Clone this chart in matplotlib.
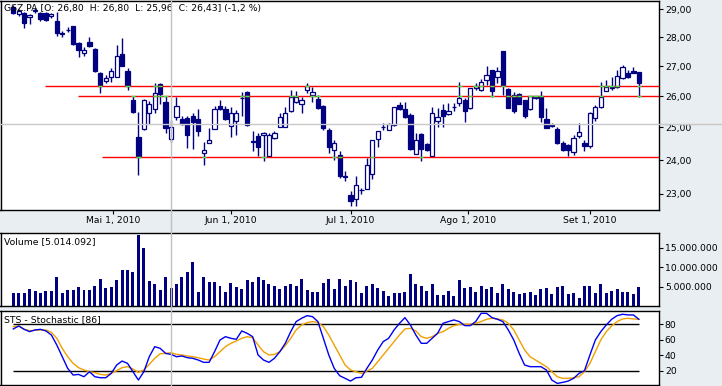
import numpy as np
import pandas as pd
import matplotlib
matplotlib.use('Agg')
import matplotlib.pyplot as plt
import matplotlib.transforms as mtransforms
from matplotlib.lines import Line2D
from matplotlib.ticker import FixedLocator, NullLocator, FuncFormatter, NullFormatter

# GSZ.PA daily candles, 6 Apr - 14 Sep 2010
dates = pd.bdate_range('2010-04-06', '2010-09-14')

opens = [29.08, 28.83, 28.86, 28.72, 28.92, 28.86, 28.86, 28.74, 28.57, 28.14,
         28.27, 28.38, 27.79, 27.45, 27.83, 27.60, 26.77, 26.51, 26.65, 26.65,
         27.41, 26.84, 25.88, 24.71, 24.96, 25.45, 25.59, 26.40, 25.82, 24.65,
         25.32, 25.27, 25.29, 25.35, 25.27, 24.21, 24.51, 24.95, 25.69, 25.59,
         25.05, 25.21, 25.94, 26.15, 24.57, 24.74, 24.77, 24.11, 24.67, 25.02,
         25.02, 25.51, 25.82, 25.75, 26.20, 26.04, 25.91, 25.67, 24.93, 24.31,
         24.16, 23.51, 22.98, 22.84, 23.11, 23.15, 23.59, 24.64, 25.00, 24.93,
         25.08, 25.72, 25.58, 25.40, 24.19, 24.80, 24.49, 24.11, 25.21, 25.54,
         25.42, 25.65, 25.77, 25.88, 25.61, 26.27, 26.20, 26.53, 26.87, 26.62,
         27.52, 26.24, 26.04, 26.07, 25.88, 25.58, 26.01, 26.01, 25.26, 25.06,
         24.95, 24.53, 24.46, 24.23, 24.72, 24.53, 24.43, 25.29, 25.65, 26.18,
         26.27, 26.29, 26.59, 26.76, 26.85, 26.80]
highs = [29.15, 29.00, 28.90, 28.83, 29.04, 28.90, 28.90, 28.86, 28.90, 28.23,
         28.37, 28.41, 27.83, 27.65, 28.00, 27.62, 26.79, 26.70, 26.94, 27.72,
         27.97, 26.94, 26.00, 25.50, 25.91, 25.85, 26.42, 26.42, 26.01, 25.24,
         25.99, 25.35, 25.35, 25.46, 25.59, 24.56, 24.98, 25.69, 25.88, 25.69,
         25.66, 25.56, 26.15, 26.17, 24.90, 24.83, 24.87, 24.83, 24.90, 25.46,
         25.65, 26.20, 26.18, 25.98, 26.42, 26.29, 26.04, 25.72, 24.99, 24.62,
         24.26, 23.66, 23.07, 23.51, 23.18, 24.06, 24.62, 24.90, 25.14, 25.15,
         25.66, 25.82, 25.82, 25.46, 24.82, 24.82, 24.52, 25.66, 25.61, 25.75,
         25.77, 25.79, 26.47, 25.94, 26.27, 26.43, 26.58, 27.00, 26.87, 26.98,
         27.52, 26.26, 26.15, 26.11, 25.88, 26.01, 26.01, 26.18, 25.62, 25.15,
         25.03, 24.59, 24.49, 24.77, 25.14, 24.62, 25.50, 25.72, 26.47, 26.53,
         26.64, 26.87, 27.04, 26.87, 26.97, 26.80]
lows = [28.83, 28.75, 28.32, 28.47, 28.86, 28.57, 28.57, 28.68, 28.04, 28.00,
        28.18, 27.74, 27.31, 27.35, 27.67, 26.80, 26.12, 26.45, 26.47, 26.63,
        26.99, 26.19, 25.46, 23.56, 24.93, 25.11, 25.46, 25.75, 24.83, 24.56,
        25.24, 25.08, 24.37, 24.34, 24.72, 23.86, 24.51, 24.95, 25.56, 25.24,
        24.71, 24.75, 25.37, 25.06, 24.26, 24.11, 23.96, 24.10, 24.65, 25.00,
        25.00, 25.50, 25.77, 25.47, 26.09, 25.82, 25.59, 24.93, 24.21, 24.01,
        23.47, 23.37, 22.65, 22.65, 23.01, 23.15, 23.44, 24.41, 24.93, 24.91,
        25.06, 25.56, 25.30, 24.31, 24.18, 23.96, 24.28, 24.10, 25.03, 25.01,
        25.40, 25.51, 25.69, 25.16, 25.59, 26.20, 26.17, 26.37, 25.98, 26.42,
        26.04, 25.61, 25.46, 25.74, 25.29, 25.56, 25.91, 25.16, 24.97, 25.02,
        24.49, 24.28, 24.11, 24.16, 24.67, 24.26, 24.37, 25.21, 25.62, 26.17,
        26.20, 26.27, 26.56, 26.60, 26.77, 25.96]
closes = [28.86, 28.93, 28.50, 28.79, 28.99, 28.63, 28.61, 28.81, 28.14, 28.13,
          28.26, 27.76, 27.55, 27.55, 27.69, 26.84, 26.34, 26.61, 26.85, 27.35,
          27.00, 26.34, 25.50, 24.10, 25.88, 25.75, 26.10, 26.06, 24.98, 25.02,
          25.67, 25.11, 24.75, 25.16, 24.88, 24.29, 24.62, 25.58, 25.58, 25.26,
          25.47, 25.45, 25.93, 25.08, 24.56, 24.41, 24.83, 24.77, 24.82, 25.34,
          25.47, 25.97, 25.98, 25.88, 26.34, 26.15, 25.61, 24.98, 24.39, 24.51,
          23.51, 23.50, 22.81, 23.27, 23.10, 23.86, 24.62, 24.88, 25.00, 25.11,
          25.65, 25.58, 25.33, 24.33, 24.62, 24.33, 24.31, 25.47, 25.33, 25.35,
          25.53, 25.64, 25.93, 25.51, 26.26, 26.34, 26.47, 26.70, 26.18, 26.84,
          26.37, 25.61, 25.51, 25.75, 25.35, 26.01, 25.94, 25.33, 24.98, 25.07,
          24.51, 24.31, 24.31, 24.67, 24.85, 24.43, 25.45, 25.65, 25.99, 26.29,
          26.30, 26.67, 26.98, 26.62, 26.78, 26.43]

# volume in millions of shares
volume_m = [3.46, 3.46, 3.46, 4.3, 3.8, 3.3, 3.8, 3.8, 7.5, 3.3,
            4.05, 4.05, 4.9, 4.05, 4.05, 5.3, 7.1, 4.7, 4.9, 6.6,
            9.4, 9.4, 8.9, 18.4, 15.1, 6.4, 5.8, 4.05, 7.6, 4.6,
            5.8, 7.4, 8.7, 11.5, 3.5, 7.4, 6.1, 6.1, 5.3, 3.5,
            5.85, 4.9, 4.3, 6.6, 6.1, 7.4, 6.6, 5.6, 5.3, 4.3,
            5.3, 5.6, 5.1, 6.9, 4.05, 3.5, 3.5, 5.85, 6.9, 4.3,
            6.9, 5.3, 6.6, 6.1, 3.3, 5.1, 5.6, 4.6, 3.8, 2.5,
            3.3, 3.3, 3.5, 8.4, 5.6, 5.1, 3.8, 5.6, 2.8, 2.8,
            3.8, 2.5, 6.6, 4.6, 4.8, 3.5, 5.1, 4.3, 4.8, 3.3,
            5.6, 4.3, 3.5, 3.0, 3.3, 3.5, 2.8, 4.3, 4.6, 3.0,
            4.8, 5.1, 3.0, 3.3, 2.0, 5.1, 5.1, 3.3, 5.6, 3.3,
            3.8, 4.3, 3.5, 3.5, 3.0, 5.014092]

stoch_k = [74.0, 77.8, 73.5, 70.5, 72.7, 73.5, 71.4, 66.2, 53.2, 38.1,
           23.0, 14.4, 15.2, 12.2, 18.7, 12.2, 10.9, 10.9, 16.5, 27.3,
           32.5, 29.5, 18.7, 7.9, 18.7, 38.1, 51.1, 48.9, 42.4, 41.1,
           38.1, 39.0, 36.8, 36.0, 33.8, 30.8, 30.8, 44.6, 59.7, 64.0,
           61.9, 60.6, 71.4, 68.3, 64.0, 40.3, 33.8, 30.8, 36.0, 44.6,
           55.4, 70.5, 83.5, 87.8, 91.2, 89.9, 83.5, 61.9, 40.3, 23.0,
           13.5, 10.1, 6.6, 10.9, 11.4, 23.0, 33.8, 46.8, 57.6, 61.9,
           72.7, 81.3, 88.6, 79.1, 66.2, 55.4, 55.4, 61.9, 68.3, 81.3,
           83.5, 85.6, 83.5, 78.3, 78.3, 83.5, 94.2, 94.2, 88.6, 86.5,
           83.5, 72.7, 59.7, 42.4, 27.3, 25.2, 25.2, 25.2, 20.9, 7.9,
           3.6, 4.9, 6.6, 10.1, 16.5, 20.0, 40.3, 59.7, 70.5, 79.1,
           86.5, 91.2, 93.0, 92.1, 92.1, 86.5]
stoch_d = [77.0, 77.8, 73.5, 71.8, 72.2, 72.7, 72.7, 69.6, 61.9, 48.9,
           38.1, 29.5, 23.9, 20.9, 18.7, 17.4, 15.2, 14.4, 16.5, 20.0,
           23.9, 25.2, 22.2, 17.8, 20.9, 28.2, 36.0, 42.0, 42.4, 43.3,
           41.1, 40.3, 39.0, 38.1, 36.8, 35.1, 33.8, 38.1, 44.6, 51.1,
           55.4, 58.4, 61.9, 64.0, 62.7, 53.2, 44.6, 40.3, 41.1, 44.6,
           52.4, 61.9, 72.7, 79.1, 82.2, 83.5, 82.6, 77.0, 66.2, 53.2,
           40.3, 27.3, 20.9, 18.7, 16.5, 19.6, 23.0, 31.6, 40.3, 48.9,
           57.6, 66.2, 74.0, 74.8, 71.4, 64.0, 61.9, 64.0, 68.3, 70.5,
           74.8, 78.3, 80.0, 80.0, 80.0, 81.3, 83.5, 86.5, 87.8, 86.9,
           85.6, 81.3, 72.7, 59.7, 46.8, 38.1, 33.8, 29.5, 25.2, 18.7,
           12.2, 10.1, 10.1, 10.9, 12.2, 18.7, 29.5, 44.6, 59.7, 70.5,
           77.8, 83.5, 86.9, 87.8, 86.9, 86.5]

# horizontal support / resistance lines (price, first bar)
levels = [26.33, 26.00, 24.08]
level_start = [5.8, 11.9, 16.3]

# cursor crosshair (bar index, price)
cursor_bar = 29
cursor_price = 25.10

tick_dates = ['2010-05-01', '2010-06-01', '2010-07-01', '2010-08-01', '2010-09-01']
tick_labels = ['Mai 1, 2010', 'Jun 1, 2010', 'Jul 1, 2010', 'Ago 1, 2010', 'Set 1, 2010']

title = 'GSZ.PA [O: 26,80  H: 26,80  L: 25,96  C: 26,43] (-1,2 %)'

navy = '#000080'
bg = '#E9EEF2'
fs = 6.7

o = np.array(opens); h = np.array(highs); l = np.array(lows); c = np.array(closes)
x = np.arange(len(dates))

W, H = 722, 386
fig = plt.figure(figsize=(W / 100, H / 100), dpi=100, facecolor=bg)


def px_axes(left, top, right, bottom):
    return fig.add_axes([left / W, 1 - bottom / H, (right - left) / W, (bottom - top) / H])


ax1 = px_axes(0.5, 0.5, 659, 210)
ax2 = px_axes(0.5, 233.3, 659, 306)
ax3 = px_axes(0.5, 311, 659, 384.5)

xlim = (-2.35, 118.7)
for ax in (ax1, ax2, ax3):
    ax.set_facecolor('white')
    ax.set_xlim(*xlim)
    for s in ax.spines.values():
        s.set_linewidth(1.0)
        s.set_color('black')
    ax.yaxis.tick_right()
    ax.tick_params(axis='y', which='major', direction='out', length=3, width=0.8,
                   pad=1.2, labelsize=fs, colors='black')
    ax.yaxis.set_minor_locator(NullLocator())

# --- price panel ---
ax1.set_yscale('log')
ax1.set_ylim(22.54, 29.32)
ax1.yaxis.set_major_locator(FixedLocator([23, 24, 25, 26, 27, 28, 29]))
ax1.yaxis.set_major_formatter(FuncFormatter(lambda v, p: f'{v:.2f}'.replace('.', ',')))
ax1.yaxis.set_minor_locator(NullLocator())
ax1.yaxis.set_minor_formatter(NullFormatter())

ords = np.array([d.toordinal() for d in dates])
tpos = np.interp([pd.Timestamp(t).toordinal() for t in tick_dates], ords, x)
ax1.set_xticks(tpos)
ax1.set_xticklabels(tick_labels)
ax1.tick_params(axis='x', direction='out', length=3, width=0.8, pad=1.5, labelsize=fs)

ax1.vlines(x, l, h, color=navy, lw=1.0, zorder=2)
up = c >= o
body_bot = np.minimum(o, c)
body_h = np.maximum(np.abs(c - o), 0.004)
ax1.bar(x, body_h, bottom=body_bot, width=0.78,
        color=np.where(up, 'white', navy), edgecolor=navy, linewidth=0.9, zorder=3)

for lev, start in zip(levels, level_start):
    ax1.hlines(lev, start, xlim[1], colors='#FF0000', lw=1.0, zorder=4)
    hit = (x >= start) & (l <= lev) & (h >= lev)
    ax1.hlines([lev] * hit.sum(), x[hit] - 0.4, x[hit] + 0.4, colors='#33EE55', lw=1.0, zorder=5)

ax1.text(3.5 / 658.5, 1 - 8.5 / 209.5, title, transform=ax1.transAxes,
         fontsize=fs, va='center', ha='left', zorder=6)

# --- volume panel ---
ax2.bar(x, np.array(volume_m) * 1e6, width=0.55, color=navy, zorder=2)
ax2.set_ylim(0, 18.8e6)
ax2.yaxis.set_major_locator(FixedLocator([5e6, 10e6, 15e6]))
ax2.yaxis.set_major_formatter(FuncFormatter(lambda v, p: f'{int(v):,}'.replace(',', '.')))
ax2.set_xticks([])
ax2.text(3.3 / 658.5, 1 - 8.4 / 72.7, f'Volume [{int(volume_m[-1] * 1e6):,}]'.replace(',', '.'),
         transform=ax2.transAxes, fontsize=fs, va='center', ha='left')

# --- stochastic panel ---
ax3.hlines([20, 80], x[0], x[-1], colors='black', lw=1.0, zorder=2)
ax3.plot(x, stoch_d, color='#F0A000', lw=1.0, zorder=3)
ax3.plot(x, stoch_k, color='#0000EE', lw=1.0, zorder=4)
ax3.set_ylim(2.15, 97.2)
ax3.yaxis.set_major_locator(FixedLocator([20, 40, 60, 80]))
ax3.yaxis.set_major_formatter(FuncFormatter(lambda v, p: f'{int(v)}'))
ax3.set_xticks([])
ax3.text(3.3 / 658.5, 1 - 9 / 73.5, 'STS - Stochastic [86]',
         transform=ax3.transAxes, fontsize=fs, va='center', ha='left')

# --- crosshair ---
vtrans = mtransforms.blended_transform_factory(ax1.transData, fig.transFigure)
fig.add_artist(Line2D([cursor_bar, cursor_bar], [0, 1], transform=vtrans,
                      color='#C0C0C0', lw=1.0, zorder=10))
htrans = mtransforms.blended_transform_factory(fig.transFigure, ax1.transData)
fig.add_artist(Line2D([0, 1], [cursor_price, cursor_price], transform=htrans,
                      color='#C8C8C8', lw=1.0, zorder=10))

fig.savefig('out.png', dpi=100, facecolor=bg)
